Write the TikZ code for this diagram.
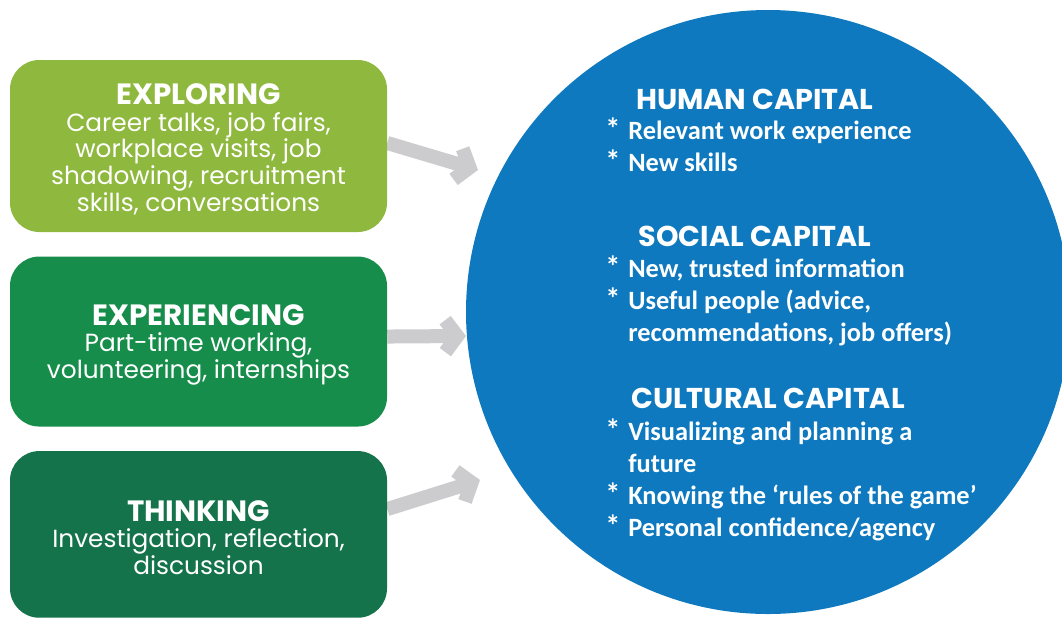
\documentclass[tikz,border=0pt]{standalone}
\usepackage{fontspec}
\setmainfont{Carlito}
\newfontfamily\stagefont{Poppins}
\usetikzlibrary{arrows.meta, positioning, backgrounds}

\definecolor{exploregreen}{HTML}{8FB83E}
\definecolor{experiencegreen}{HTML}{168D4A}
\definecolor{thinkgreen}{HTML}{14734A}
\definecolor{capitalblue}{HTML}{0E79BE}
\definecolor{flowgray}{HTML}{CCCBCD}

\tikzset{
  stage/.style={rounded corners=22pt, minimum width=282.75pt, inner sep=0pt,
    text=white, align=center, font=\stagefont\fontsize{18.6}{20.1}\selectfont},
  flow/.style={draw=flowgray, line width=10.5pt, -{Straight Barb[length=9pt, width=24pt]}},
  captitle/.style={text=white, inner sep=0pt, font=\stagefont\bfseries\fontsize{21.5}{25}\selectfont},
  caplist/.style={text=white, inner sep=0pt, anchor=north west, align=left,
    font=\bfseries\fontsize{19.8}{24}\selectfont}
}

% bullet with a hanging indent
\newcommand{\capitem}{\makebox[17.25pt][l]{\scalebox{1.15}{*}}}
\newcommand{\capindent}{\hspace*{17.25pt}}
\newcommand{\stagehead}[1]{{\bfseries\fontsize{22}{23.5}\selectfont\rule{0pt}{20.5pt}#1}}

\begin{document}
\begin{tikzpicture}[x=0.75pt, y=-0.75pt]

\useasboundingbox (0,0) rectangle (1062,618);
\clip (0,0) rectangle (1062,618);

% --- the three capitals ---
\node[circle, fill=capitalblue, minimum size=453pt, inner sep=0pt] (capitals) at (768,312) {};

\node[captitle] (human) at (755,99) {HUMAN CAPITAL};
\node[caplist] (humanlist) at (605,117.5)
  {\capitem Relevant work experience\\ \capitem New skills};

\node[captitle] (social) at (755,236) {SOCIAL CAPITAL};
\node[caplist] (sociallist) at (605,255.5)
  {\capitem New, trusted information\\
   \capitem Useful people (advice,\\
   \capindent recommendations, job offers)};

\node[captitle] (cultural) at (768,398) {CULTURAL CAPITAL};
\node[caplist] (culturallist) at (605,418.5)
  {\capitem Visualizing and planning a\\
   \capindent future\\
   \capitem Knowing the ‘rules of the game’\\
   \capitem Personal confidence/agency};

% --- activities on the left ---
\node[stage, fill=exploregreen, minimum height=129pt] (explore) at (198.5,146)
  {\stagehead{EXPLORING}\\ Career talks, job fairs,\\ workplace visits, job\\
   shadowing, recruitment\\ skills, conversations};
\node[stage, fill=experiencegreen, minimum height=127.5pt, below=18pt of explore] (experience)
  {\stagehead{EXPERIENCING}\\ Part-time working,\\ volunteering, internships};
\node[stage, fill=thinkgreen, minimum height=125pt, below=18pt of experience] (think)
  {\stagehead{THINKING}\\ Investigation, reflection,\\ discussion};

% arrows into the circle
\coordinate (exploretip) at (478,170);
\coordinate (experiencetip) at (466,336);
\coordinate (thinktip) at (480,480);

\begin{scope}[on background layer]
  \draw[flow] ([yshift=2.25pt]explore.east) -- (exploretip);
  \draw[flow] ([yshift=3.75pt]experience.east) -- (experiencetip);
  \draw[flow] ([yshift=19pt]think.east) -- (thinktip);
\end{scope}

\end{tikzpicture}
\end{document}
